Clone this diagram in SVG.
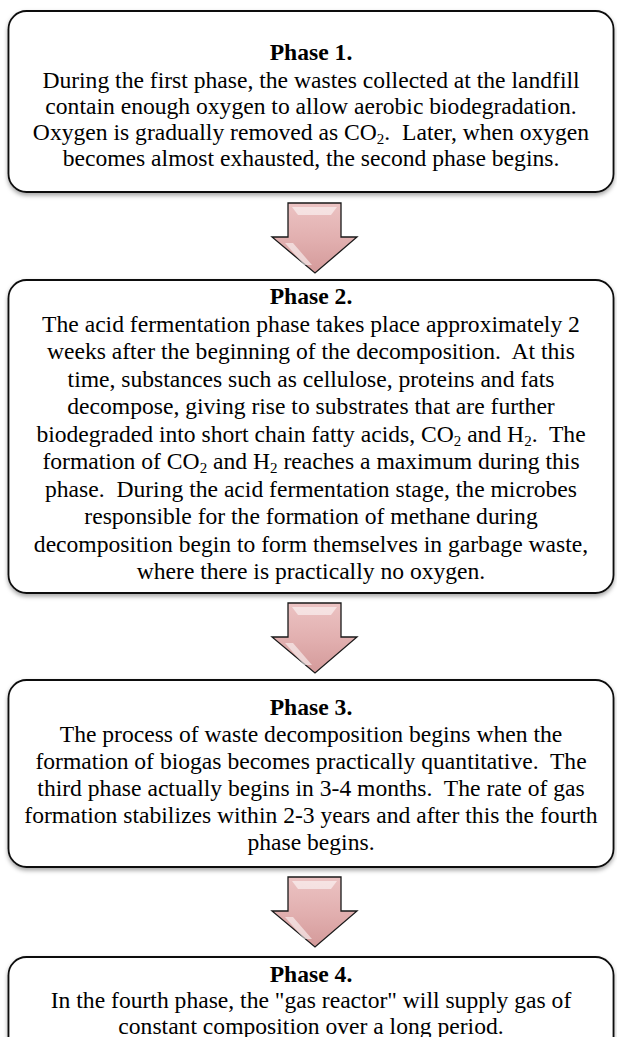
<svg xmlns="http://www.w3.org/2000/svg" width="617" height="1037" viewBox="0 0 617 1037">
<style>
.box{fill:#fff;stroke:#111;stroke-width:1.8;filter:url(#sh)}
.t{font-family:"Liberation Serif","Times New Roman",serif;font-size:23.6px;fill:#000;text-anchor:middle;white-space:pre}
.b{font-weight:bold}
.s{font-size:15px}
.arr{fill:url(#ag);stroke:#1a1a1a;stroke-width:1.3;stroke-linejoin:miter}
.hl{fill:#fff;opacity:0.55}
</style>
<defs>
<filter id="sh" x="-5%" y="-5%" width="110%" height="115%">
<feDropShadow dx="0" dy="2.5" stdDeviation="2" flood-color="#000" flood-opacity="0.35"/>
</filter>
<linearGradient id="ag" x1="0" y1="0" x2="0" y2="1">
<stop offset="0" stop-color="#ecc3c3"/>
<stop offset="0.5" stop-color="#e2b0b0"/>
<stop offset="1" stop-color="#d49a9a"/>
</linearGradient>
<g id="arrow">
<path class="arr" d="M288,0 H341 V34 H357 L315,70 L272,34 H288 Z"/>
<path class="hl" d="M292,4 H337 L331,12 H298 Z"/>
<path class="hl" d="M285,40 L293,40 L312,62 L304,62 Z" opacity="0.4"/>
</g>
</defs>

<g id="connectors">
<use href="#arrow" y="203"/>
<use href="#arrow" y="603"/>
<use href="#arrow" y="877"/>
</g>

<g id="phase1">
<rect class="box" x="8.5" y="11" width="605" height="181" rx="18"/>
<text class="t b" x="311" y="60">Phase 1.</text>
<text class="t" x="311" y="88">During the first phase, the wastes collected at the landfill</text>
<text class="t" x="311" y="114">contain enough oxygen to allow aerobic biodegradation.</text>
<text class="t" x="311" y="140">Oxygen is gradually removed as CO<tspan class="s" dy="4">2</tspan><tspan dy="-4">.  Later, when oxygen</tspan></text>
<text class="t" x="311" y="166">becomes almost exhausted, the second phase begins.</text>
</g>

<g id="phase2">
<rect class="box" x="8.5" y="280" width="605" height="313" rx="18"/>
<text class="t b" x="311" y="304">Phase 2.</text>
<text class="t" x="311" y="331.5">The acid fermentation phase takes place approximately 2</text>
<text class="t" x="311" y="359">weeks after the beginning of the decomposition.  At this</text>
<text class="t" x="311" y="386.5">time, substances such as cellulose, proteins and fats</text>
<text class="t" x="311" y="414">decompose, giving rise to substrates that are further</text>
<text class="t" x="311" y="441.5">biodegraded into short chain fatty acids, CO<tspan class="s" dy="4">2</tspan><tspan dy="-4"> and H</tspan><tspan class="s" dy="4">2</tspan><tspan dy="-4">.  The</tspan></text>
<text class="t" x="311" y="469">formation of CO<tspan class="s" dy="4">2</tspan><tspan dy="-4"> and H</tspan><tspan class="s" dy="4">2</tspan><tspan dy="-4"> reaches a maximum during this</tspan></text>
<text class="t" x="311" y="496.5">phase.  During the acid fermentation stage, the microbes</text>
<text class="t" x="311" y="524">responsible for the formation of methane during</text>
<text class="t" x="311" y="551.5">decomposition begin to form themselves in garbage waste,</text>
<text class="t" x="311" y="579">where there is practically no oxygen.</text>
</g>

<g id="phase3">
<rect class="box" x="8.5" y="680" width="605" height="187" rx="18"/>
<text class="t b" x="311" y="715">Phase 3.</text>
<text class="t" x="311" y="742">The process of waste decomposition begins when the</text>
<text class="t" x="311" y="769">formation of biogas becomes practically quantitative.  The</text>
<text class="t" x="311" y="796">third phase actually begins in 3-4 months.  The rate of gas</text>
<text class="t" x="311" y="823">formation stabilizes within 2-3 years and after this the fourth</text>
<text class="t" x="311" y="850">phase begins.</text>
</g>

<g id="phase4">
<rect class="box" x="8.5" y="957" width="605" height="140" rx="18"/>
<text class="t b" x="311" y="982">Phase 4.</text>
<text class="t" x="311" y="1008">In the fourth phase, the "gas reactor" will supply gas of</text>
<text class="t" x="311" y="1034">constant composition over a long period.</text>
</g>
</svg>
